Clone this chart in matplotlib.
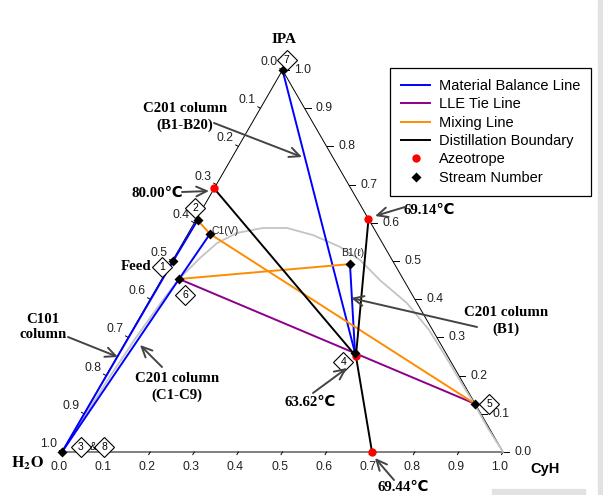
import numpy as np
import matplotlib
matplotlib.use('Agg')
import matplotlib.pyplot as plt
from matplotlib.lines import Line2D
from matplotlib.patches import Rectangle

# ---------------- data (CyH fraction, IPA fraction; H2O = remainder) ----------------
stream_names = ['1', '2', '3', '4', '5', '6', '7']
stream_cyh = [0.002, 0.004, 0.000, 0.535, 0.874, 0.039, 0.000]
stream_ipa = [0.500, 0.607, 0.000, 0.259, 0.126, 0.453, 1.000]

tray_names = ['C1(V)', 'B1(ℓ)']
tray_cyh = [0.050, 0.407]
tray_ipa = [0.571, 0.492]

azeo_labels = ['80.00℃', '69.14℃', '63.62℃', '69.44℃']
azeo_cyh = [0.000, 0.390, 0.541, 0.703]
azeo_ipa = [0.690, 0.610, 0.251, 0.000]

binodal_cyh = [0.000, 0.0045, 0.010, 0.018, 0.030, 0.039, 0.059, 0.078, 0.110, 0.162,
               0.217, 0.285, 0.362, 0.424, 0.496, 0.587, 0.672, 0.745, 0.816, 0.872,
               0.935, 1.000]
binodal_ipa = [0.000, 0.100, 0.200, 0.300, 0.400, 0.453, 0.508, 0.547, 0.5735, 0.5865,
               0.5865, 0.568, 0.537, 0.503, 0.450, 0.390, 0.320, 0.250, 0.180, 0.126,
               0.062, 0.000]

tick_values = [0.0, 0.1, 0.2, 0.3, 0.4, 0.5, 0.6, 0.7, 0.8, 0.9, 1.0]

material_balance = [['3', '1', '2'], ['3', '6', 'C1(V)'], ['7', '4'], ['B1(ℓ)', '4']]
lle_tie = [['6', '5']]
mixing = [['2', 'C1(V)', '5'], ['6', 'B1(ℓ)']]
boundary = [['80.00℃', '63.62℃'], ['69.14℃', '63.62℃'], ['63.62℃', '69.44℃']]

# ---------------- helpers ----------------
H = np.sqrt(3) / 2
S = 441.0  # px per unit


def to_xy(cyh, ipa):
    cyh = np.asarray(cyh, float)
    ipa = np.asarray(ipa, float)
    return cyh + 0.5 * ipa, ipa * H


def px(dx, dy):
    """pixel offset -> data offset (dy positive = down)"""
    return dx / S, -dy / S


def P(x, y):
    """absolute pixel -> data"""
    return (x - 62) / S, (452 - y) / S


comp = {}
for n, c, i in zip(stream_names, stream_cyh, stream_ipa):
    comp[n] = (c, i)
for n, c, i in zip(tray_names, tray_cyh, tray_ipa):
    comp[n] = (c, i)
for n, c, i in zip(azeo_labels, azeo_cyh, azeo_ipa):
    comp[n] = (c, i)

SERIF = ['Liberation Serif', 'DejaVu Serif']
SERIF_C = ['Liberation Serif', 'DejaVu Sans']
SANS = ['Liberation Sans', 'DejaVu Sans']
plt.rcParams['mathtext.fontset'] = 'stix'

fig = plt.figure(figsize=(6.03, 4.95), dpi=100)
ax = fig.add_axes([0, 0, 1, 1])
ax.set_xlim(-62 / S, (603 - 62) / S)
ax.set_ylim(-(495 - 452) / S, 452 / S)
ax.axis('off')

# triangle
ax.plot([0, 1, 0.5, 0], [0, 0, H, 0], color='black', lw=0.7, zorder=2)

# ticks and labels
for v in tick_values:
    lab = f'{v:.1f}'
    # bottom (CyH)
    x0, y0 = v, 0.0
    d = px(-1.5, 2.6)
    ax.plot([x0, x0 + d[0]], [y0, y0 + d[1]], color='black', lw=0.7, zorder=2)
    o = px(-3, 15)
    ax.text(x0 + o[0], y0 + o[1], lab, ha='center', va='center', fontsize=8.8,
            family=SANS, color='#222222')
    # right (IPA)
    x0, y0 = to_xy(1 - v, v)
    d = px(6, 0)
    ax.plot([x0, x0 + d[0]], [y0, y0 + d[1]], color='black', lw=0.7, zorder=2)
    o = px(20, 0)
    ax.text(x0 + o[0], y0 + o[1], lab, ha='center', va='center', fontsize=8.8,
            family=SANS, color='#222222')
    # left (H2O)
    x0, y0 = to_xy(0, 1 - v)
    d = px(-2.6, -1.5)
    ax.plot([x0, x0 + d[0]], [y0, y0 + d[1]], color='black', lw=0.7, zorder=2)
    o = px(-13, -8)
    ax.text(x0 + o[0], y0 + o[1], lab, ha='center', va='center', fontsize=8.8,
            family=SANS, color='#222222')

# binodal curve
bx, by = to_xy(binodal_cyh, binodal_ipa)
ax.plot(bx, by, color='#c4c4c4', lw=1.3, zorder=3)


def draw_paths(paths, color, lw=1.4, z=4):
    for p in paths:
        cs = [comp[n][0] for n in p]
        ips = [comp[n][1] for n in p]
        x, y = to_xy(cs, ips)
        ax.plot(x, y, color=color, lw=lw, zorder=z, solid_capstyle='butt')


draw_paths(material_balance, '#0000ff')
draw_paths(lle_tie, '#8b008b')
draw_paths(mixing, '#ff8c00')
draw_paths(boundary, 'black', z=5)

# azeotropes
ax_, ay_ = to_xy(azeo_cyh, azeo_ipa)
ax.plot(ax_, ay_, 'o', color='red', ms=6, zorder=6, mec='none')

# streams
sx, sy = to_xy(stream_cyh + tray_cyh, stream_ipa + tray_ipa)
ax.plot(sx, sy, 'D', color='black', ms=5.5, zorder=7, mec='none')

# stream number diamonds (offset in px from stream point)
num_offsets = {'7': (4, -10), '2': (-2.5, -12), '1': (-11.3, 6.3), '6': (6, 16),
               '4': (-11.7, 8.7), '5': (14, 0)}


def diamond_label(x, y, t):
    ax.plot([x], [y], 'D', ms=10, mfc='white', mec='black', mew=0.8, zorder=8)
    ax.text(x, y, t, ha='center', va='center', fontsize=7.5, family=SANS, zorder=9)


for n, (dx, dy) in num_offsets.items():
    x0, y0 = to_xy(*comp[n])
    o = px(dx, dy)
    diamond_label(x0 + o[0], y0 + o[1], n)

x0, y0 = to_xy(*comp['3'])
o = px(19, -5.3)
diamond_label(x0 + o[0], y0 + o[1], '3')
o = px(42.3, -5.3)
diamond_label(x0 + o[0], y0 + o[1], '8')
o = px(31, -5.3)
ax.text(x0 + o[0], y0 + o[1], '&', ha='center', va='center', fontsize=7.5,
        family=SANS, zorder=9)

# tray labels
x0, y0 = to_xy(*comp['C1(V)'])
o = px(2, -3)
ax.text(x0 + o[0], y0 + o[1], 'C1(V)', ha='left', va='center', fontsize=7.5,
        family=SANS, color='#222222', zorder=9)
x0, y0 = to_xy(*comp['B1(ℓ)'])
o = px(3, -11)
ax.text(x0 + o[0], y0 + o[1], 'B1(ℓ)', ha='center', va='center', fontsize=7.5,
        family=SANS, color='#222222', zorder=9)

# vertex labels
ax.text(*P(284, 39), 'IPA', ha='center', va='center', fontsize=11,
        family=SERIF, weight='bold')
ax.text(*P(28, 463), r'$\mathbf{H_2O}$', ha='center', va='center', fontsize=11.5)
ax.text(*P(545, 469), 'CyH', ha='center', va='center', fontsize=10.5,
        family=SANS, weight='bold')

# annotations
ann_kw = dict(ha='center', va='center', fontsize=10.7, family=SERIF_C, weight='bold',
              linespacing=1.25, zorder=10)
ax.text(*P(185, 117), 'C201 column\n(B1-B20)', **ann_kw)
ax.text(*P(157, 193), azeo_labels[0], **ann_kw)
ax.text(*P(429, 210), azeo_labels[1], **ann_kw)
ax.text(*P(136, 267), 'Feed', **ann_kw)
ax.text(*P(43, 327), 'C101\ncolumn', **ann_kw)
ax.text(*P(177, 387), 'C201 column\n(C1-C9)', **ann_kw)
ax.text(*P(506, 321), 'C201 column\n(B1)', **ann_kw)
ax.text(*P(310, 402), azeo_labels[2], **ann_kw)
ax.text(*P(403, 487), azeo_labels[3], **ann_kw)

arrows = [((214, 123), (302, 157)),
          ((182, 192), (209, 191)),
          ((405, 207), (375, 216)),
          ((68, 337), (118, 357)),
          ((162, 367), (140, 345)),
          ((477, 327), (351, 298)),
          ((313, 393), (347, 368)),
          ((394, 480), (375, 458))]
for tail, tip in arrows:
    ax.annotate('', xy=P(*tip), xytext=P(*tail),
                arrowprops=dict(arrowstyle='->,head_length=0.75,head_width=0.35',
                                color='#444444', lw=1.4, mutation_scale=10,
                                shrinkA=0, shrinkB=0), zorder=10)

# legend
handles = [Line2D([], [], color='#0000ff', lw=1.4),
           Line2D([], [], color='#8b008b', lw=1.4),
           Line2D([], [], color='#ff8c00', lw=1.4),
           Line2D([], [], color='black', lw=1.4),
           Line2D([], [], marker='o', color='red', ls='none', ms=6, mec='none'),
           Line2D([], [], marker='D', color='black', ls='none', ms=5.5, mec='none')]
labels = ['Material Balance Line', 'LLE Tie Line', 'Mixing Line',
          'Distillation Boundary', 'Azeotrope', 'Stream Number']
leg = ax.legend(handles, labels, loc='upper left',
                bbox_to_anchor=(390 / 603, 1 - 68 / 495), bbox_transform=fig.transFigure,
                borderaxespad=0, fancybox=False, edgecolor='black', framealpha=1,
                prop={'family': SANS, 'size': 10.5}, handlelength=2.0,
                handletextpad=0.6, labelspacing=0.3, borderpad=0.75)
leg.get_frame().set_linewidth(0.9)
leg.set_zorder(20)

# screenshot edge artifacts (light grey)
fig.patches.append(Rectangle((598 / 603, 0), 5 / 603, 1, transform=fig.transFigure,
                             color='#e2e2e2', zorder=0))
fig.patches.append(Rectangle((492 / 603, 0), 93 / 603, 6 / 495, transform=fig.transFigure,
                             color='#e2e2e2', zorder=0))

fig.savefig('out.png', dpi=100)
